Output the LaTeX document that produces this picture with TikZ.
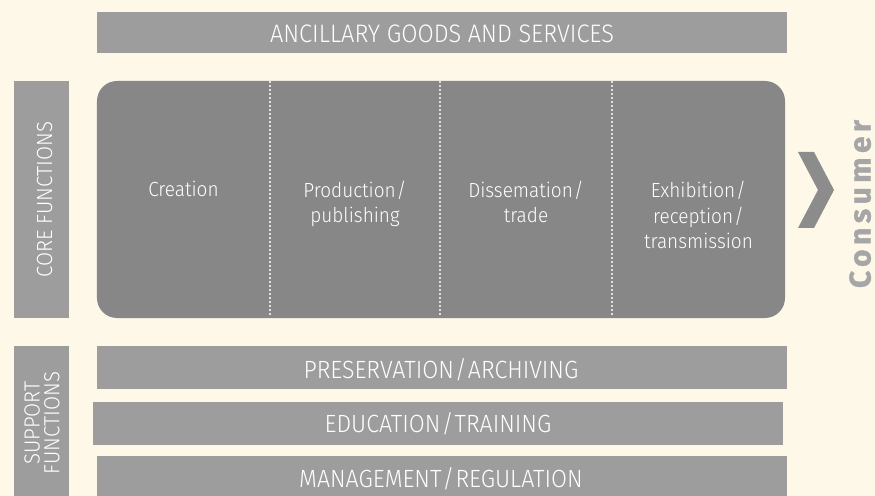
\documentclass[tikz,border=0pt]{standalone}
\usepackage{fontspec}
\setmainfont{Fira Sans Light}[FakeStretch=0.93]
\newfontfamily\consfont{Fira Sans Bold}[LetterSpace=15, FakeBold=1.2]
\definecolor{bgc}{RGB}{254,248,232}
\definecolor{barc}{RGB}{157,157,157}
\definecolor{corec}{RGB}{135,135,135}
\definecolor{chevc}{RGB}{140,140,140}
\definecolor{consc}{RGB}{166,166,166}
\begin{document}
\begin{tikzpicture}[x=1bp,y=-1bp,
  bar/.style={fill=barc, draw=none, inner sep=0pt},
  captext/.style={text=white, font=\fontsize{25}{25}\selectfont, anchor=base, inner sep=0pt},
  sidetext/.style={text=white, font=\fontsize{22}{20}\selectfont, align=center, rotate=90, inner sep=0pt},
  coltext/.style={text=white, font=\fontsize{20.5}{26}\selectfont, align=center, anchor=base, inner sep=0pt},
  divider/.style={white, line width=2.2bp, dash pattern=on 0bp off 4bp, line cap=round}]
\fill[bgc] (0,0) rectangle (875,496);
\useasboundingbox (0,0) rectangle (875,496);
% top bar
\node[bar, minimum width=690bp, minimum height=41bp] (anc) at (442,32.5) {};
\node[captext, font=\fontsize{25.4}{25.4}\selectfont] (anct) at (442,43) {ANCILLARY GOODS AND SERVICES};
% left labels
\node[bar, minimum width=55bp, minimum height=237bp] (corel) at (41.5,199.5) {};
\node[sidetext, anchor=base] (corelt) at (52,199.5) {CORE FUNCTIONS};
\node[bar, minimum width=55bp, minimum height=154bp] (supl) at (41.5,423) {};
\node[sidetext] (suplt) at (42,423) {SUPPORT\\FUNCTIONS};
% core box
\node[fill=corec, draw=none, rounded corners=20bp, minimum width=688bp, minimum height=237bp, inner sep=0pt] (core) at (441,199.5) {};
\coordinate (d1t) at (270,82); \coordinate (d1b) at (270,317);
\coordinate (d2t) at (440,82); \coordinate (d2b) at (440,317);
\coordinate (d3t) at (612,82); \coordinate (d3b) at (612,317);
\draw[divider] (d1t) -- (d1b);
\draw[divider] (d2t) -- (d2b);
\draw[divider] (d3t) -- (d3b);
\node[coltext] (c1) at (183.5,197) {Creation};
\node[coltext] (c2) at (355,223) {Production\kern1bp/\\publishing};
\node[coltext] (c3) at (526,223) {Dissemation\kern1bp/\\trade};
\node[coltext] (c4) at (698.5,249) {Exhibition\kern1bp/\\reception\kern1bp/\\transmission};
% chevron and consumer
\fill[chevc] (798,152) -- (814,152) -- (834,190) -- (814,228) -- (798,228) -- (818,190) -- cycle;
\node[rotate=90, text=consc, font=\consfont\fontsize{30}{30}\selectfont, anchor=base, inner sep=0pt] (cons) at (870.5,204) {Consumer};
% support bars
\node[bar, minimum width=690bp, minimum height=43bp] (pres) at (442,367.5) {};
\node[captext] (prest) at (441,378) {PRESERVATION\kern1bp/\kern1bpARCHIVING};
\node[bar, minimum width=690bp, minimum height=43bp] (edu) at (438,423.5) {};
\node[captext] (edut) at (438,432) {EDUCATION\kern1bp/\kern1bpTRAINING};
\node[bar, minimum width=690bp, minimum height=44bp] (man) at (442,478) {};
\node[captext] (mant) at (441,487) {MANAGEMENT\kern1bp/\kern1bpREGULATION};
\end{tikzpicture}
\end{document}
